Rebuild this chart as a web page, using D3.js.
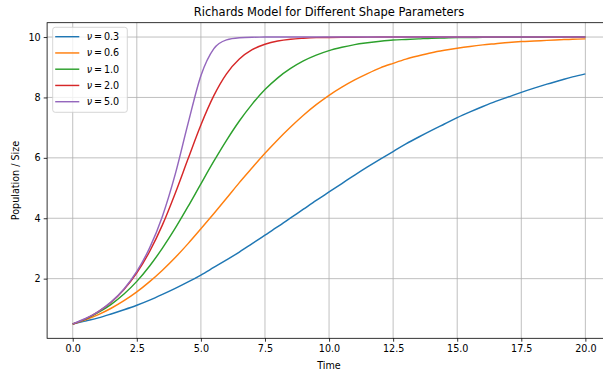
<!DOCTYPE html>
<html>
<head>
<meta charset="utf-8">
<script src="https://cdn.jsdelivr.net/npm/d3@7"></script>
<style>
  body { margin: 0; background: #fff; }
  svg { display: block; font-family: "DejaVu Sans", sans-serif; }
</style>
</head>
<body>
<div id="chart"></div>
<script>
// sampled times (step 0.5)
const times = [0, 0.5, 1, 1.5, 2, 2.5, 3, 3.5, 4, 4.5, 5, 5.5, 6, 6.5, 7, 7.5, 8, 8.5, 9, 9.5, 10,
  10.5, 11, 11.5, 12, 12.5, 13, 13.5, 14, 14.5, 15, 15.5, 16, 16.5, 17, 17.5, 18, 18.5, 19, 19.5, 20];

const nuLabels = ["0.3", "0.6", "1.0", "2.0", "5.0"];

// population values
const nu03 = [0.50, 0.60, 0.70, 0.83, 0.97, 1.12, 1.29, 1.48, 1.68, 1.89, 2.12, 2.37, 2.62, 2.88, 3.16, 3.44,
  3.72, 4.01, 4.30, 4.59, 4.87, 5.15, 5.43, 5.70, 5.96, 6.21, 6.46, 6.69, 6.91, 7.12, 7.33, 7.52, 7.70,
  7.87, 8.02, 8.17, 8.31, 8.44, 8.56, 8.68, 8.78];
const nu06 = [0.50, 0.64, 0.81, 1.02, 1.27, 1.56, 1.90, 2.28, 2.70, 3.16, 3.65, 4.15, 4.66, 5.18, 5.67, 6.15,
  6.60, 7.02, 7.41, 7.76, 8.07, 8.34, 8.58, 8.79, 8.98, 9.13, 9.27, 9.38, 9.48, 9.56, 9.63, 9.69, 9.74,
  9.78, 9.82, 9.85, 9.87, 9.89, 9.91, 9.93, 9.94];
const nu10 = [0.50, 0.66, 0.88, 1.15, 1.49, 1.91, 2.42, 3.01, 3.67, 4.39, 5.14, 5.88, 6.58, 7.22, 7.78, 8.26,
  8.65, 8.96, 9.21, 9.40, 9.55, 9.66, 9.75, 9.81, 9.86, 9.90, 9.92, 9.94, 9.96, 9.97, 9.98, 9.98, 9.99,
  9.99, 9.99, 9.995, 9.996, 9.997, 9.998, 9.998, 9.999];
const nu20 = [0.50, 0.67, 0.91, 1.22, 1.64, 2.19, 2.90, 3.78, 4.83, 5.97, 7.09, 8.05, 8.78, 9.27, 9.58, 9.76,
  9.87, 9.93, 9.96, 9.98, 9.988, 9.993, 9.996, 9.998, 9.999, 9.999, 9.999, 10, 10, 10, 10, 10, 10,
  10, 10, 10, 10, 10, 10, 10, 10];
const nu50 = [0.50, 0.68, 0.91, 1.23, 1.66, 2.24, 3.02, 4.07, 5.46, 7.14, 8.72, 9.61, 9.905, 9.978, 9.995, 9.999,
  10, 10, 10, 10, 10, 10, 10, 10, 10, 10, 10, 10, 10, 10, 10, 10, 10,
  10, 10, 10, 10, 10, 10, 10, 10];

const seriesValues = [nu03, nu06, nu10, nu20, nu50];
const colors = ["#1f77b4", "#ff7f0e", "#2ca02c", "#d62728", "#9467bd"];

const xTicks = [0, 2.5, 5, 7.5, 10, 12.5, 15, 17.5, 20];
const yTicks = [2, 4, 6, 8, 10];

const width = 603, height = 373;
const plot = { left: 47.1, right: 611, top: 22.7, bottom: 338.3 };

const svg = d3.select("#chart").append("svg")
  .attr("width", width)
  .attr("height", height);

const x = d3.scaleLinear().domain([-1, 21]).range([plot.left, plot.right]);
const y = d3.scaleLinear().domain([0.025, 10.475]).range([plot.bottom, plot.top]);

// grid
const grid = svg.append("g").attr("stroke", "#b0b0b0").attr("stroke-width", 0.8);
grid.selectAll(".gx").data(xTicks).enter().append("line")
  .attr("x1", d => x(d)).attr("x2", d => x(d))
  .attr("y1", plot.top).attr("y2", plot.bottom);
grid.selectAll(".gy").data(yTicks).enter().append("line")
  .attr("x1", plot.left).attr("x2", plot.right)
  .attr("y1", d => y(d)).attr("y2", d => y(d));

// curves
const line = d3.line()
  .x((d, i) => x(times[i]))
  .y(d => y(d))
  .curve(d3.curveMonotoneX);

svg.append("g").selectAll("path").data(seriesValues).enter().append("path")
  .attr("d", d => line(d))
  .attr("fill", "none")
  .attr("stroke", (d, i) => colors[i])
  .attr("stroke-width", 1.45);

// axes
const xAxis = d3.axisBottom(x).tickValues(xTicks).tickFormat(d3.format(".1f")).tickSizeOuter(0).tickSize(3.4).tickPadding(3);
const yAxis = d3.axisLeft(y).tickValues(yTicks).tickFormat(d3.format("d")).tickSizeOuter(0).tickSize(3.4).tickPadding(3);

const gx = svg.append("g").attr("transform", `translate(0,${plot.bottom})`).call(xAxis);
const gy = svg.append("g").attr("transform", `translate(${plot.left},0)`).call(yAxis);
[gx, gy].forEach(g => {
  g.select(".domain").remove();
  g.selectAll("text").attr("font-size", 9.6).attr("fill", "#000").attr("font-family", "DejaVu Sans");
  g.selectAll("line").attr("stroke", "#000").attr("stroke-width", 0.8);
});

// frame
svg.append("rect")
  .attr("x", plot.left).attr("y", plot.top)
  .attr("width", plot.right - plot.left).attr("height", plot.bottom - plot.top)
  .attr("fill", "none").attr("stroke", "#000").attr("stroke-width", 0.8);

// title and labels
svg.append("text")
  .attr("x", (plot.left + plot.right) / 2).attr("y", 16)
  .attr("text-anchor", "middle").attr("font-size", 11.5)
  .text("Richards Model for Different Shape Parameters");

svg.append("text")
  .attr("x", (plot.left + plot.right) / 2).attr("y", 369)
  .attr("text-anchor", "middle").attr("font-size", 9.6)
  .text("Time");

svg.append("text")
  .attr("transform", `translate(19,${(plot.top + plot.bottom) / 2}) rotate(-90)`)
  .attr("text-anchor", "middle").attr("font-size", 9.6)
  .text("Population / Size");

// legend
const legend = svg.append("g").attr("transform", "translate(52.7,27.3)");
legend.append("rect")
  .attr("width", 74.6).attr("height", 85)
  .attr("rx", 2.5)
  .attr("fill", "#fff").attr("fill-opacity", 0.8)
  .attr("stroke", "#cccccc").attr("stroke-width", 0.8);

const items = legend.selectAll(".item").data(nuLabels).enter().append("g")
  .attr("transform", (d, i) => `translate(0,${9.4 + i * 16.25})`);
items.append("line")
  .attr("x1", 2.5).attr("x2", 26.6)
  .attr("stroke", (d, i) => colors[i]).attr("stroke-width", 1.45);
const txt = items.append("text")
  .attr("x", 34).attr("dy", "0.35em").attr("font-size", 9.6);
txt.append("tspan").attr("font-style", "italic").text("ν");
txt.append("tspan").text(d => "\u2009=\u2009" + d);
</script>
</body>
</html>
